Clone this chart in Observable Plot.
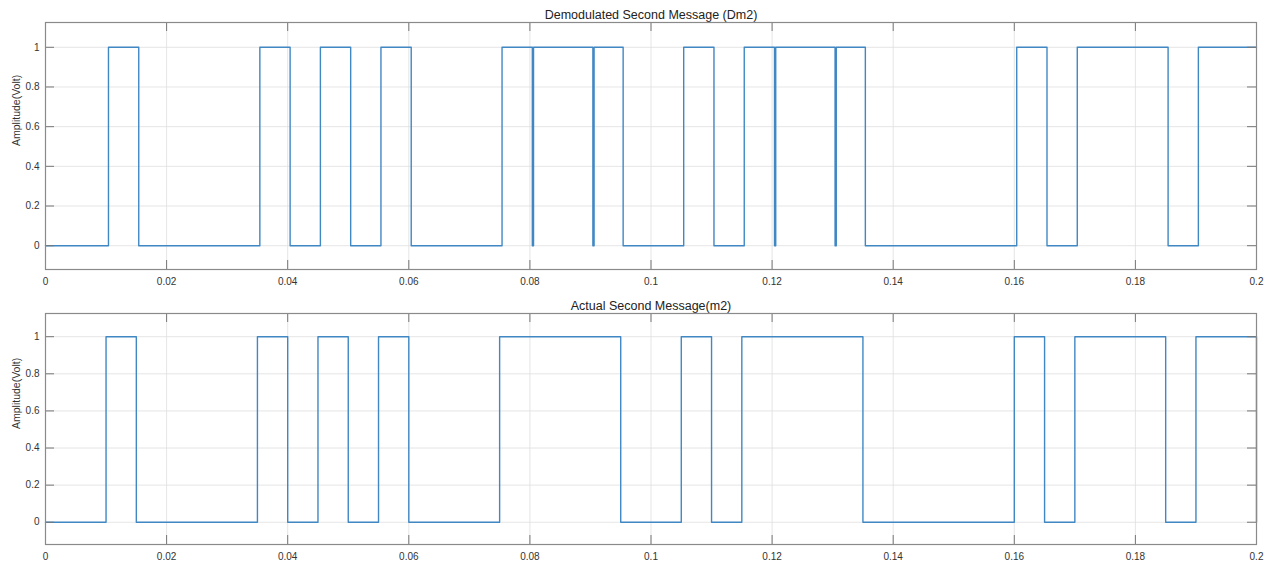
<!DOCTYPE html>
<html>
<head>
<meta charset="utf-8">
<script src="https://cdn.jsdelivr.net/npm/d3@7"></script>
<script src="https://cdn.jsdelivr.net/npm/@observablehq/plot@0.6"></script>
<style>
  html, body { margin: 0; padding: 0; background: #fff; }
  #chart svg { display: block; }
</style>
</head>
<body>
<div id="chart"></div>
<script>
// ---- Data ----
const xTicks = [0, 0.02, 0.04, 0.06, 0.08, 0.1, 0.12, 0.14, 0.16, 0.18, 0.2];
const yTicks = [0, 0.2, 0.4, 0.6, 0.8, 1];

const dm2Title = "Demodulated Second Message (Dm2)";
const dm2Times  = [0, 0.0104, 0.0154, 0.0354, 0.0404, 0.0454, 0.0504, 0.0554, 0.0604, 0.0754,
                   0.0804, 0.0806, 0.0904, 0.0906, 0.0954, 0.1054, 0.1104, 0.1154, 0.1204, 0.1206,
                   0.1304, 0.1306, 0.1354, 0.1604, 0.1654, 0.1704, 0.1854, 0.1904, 0.2];
const dm2Levels = [0, 1, 0, 1, 0, 1, 0, 1, 0, 1,
                   0, 1, 0, 1, 0, 1, 0, 1, 0, 1,
                   0, 1, 0, 1, 0, 1, 0, 1, 1];

const m2Title = "Actual Second Message(m2)";
const m2Times  = [0, 0.01, 0.015, 0.035, 0.04, 0.045, 0.05, 0.055, 0.06, 0.075,
                  0.095, 0.105, 0.11, 0.115, 0.135, 0.16, 0.165, 0.17, 0.185, 0.19, 0.2];
const m2Levels = [0, 1, 0, 1, 0, 1, 0, 1, 0, 1,
                  0, 1, 0, 1, 0, 1, 0, 1, 0, 1, 0];

const yLabel = "Amplitude(Volt)";

// ---- Drawing ----
const W = 1272, mL = 45, mR = 16;
const fmt = d => String(+d.toFixed(4));
const LINE = "#4088c4";

function panel(times, levels, title, height, mT, mB) {
  const data = times.map((t, i) => ({t, v: levels[i]}));
  const fh = height - mT - mB;
  const fw = W - mL - mR;
  const tk = 9;
  return Plot.plot({
    width: W, height,
    marginLeft: mL, marginRight: mR, marginTop: mT, marginBottom: mB,
    style: {fontFamily: "'Liberation Sans', Arial, sans-serif", fontSize: "10px", color: "#333", background: "#fff"},
    x: {domain: [0, 0.2]},
    y: {domain: [-0.12, 1.125]},
    marks: [
      Plot.gridX(xTicks, {stroke: "#dedede", strokeOpacity: 1, strokeWidth: 0.8}),
      Plot.gridY(yTicks, {stroke: "#dedede", strokeOpacity: 1, strokeWidth: 0.8}),
      Plot.line(data, {x: "t", y: "v", curve: "step-after", stroke: LINE, strokeWidth: 1.4}),
      Plot.tickX(xTicks, {x: d => d, insetTop: fh - tk, stroke: "#777", strokeWidth: 1}),
      Plot.tickX(xTicks, {x: d => d, insetBottom: fh - tk, stroke: "#777", strokeWidth: 1}),
      Plot.tickY(yTicks, {y: d => d, insetRight: fw - tk, stroke: "#777", strokeWidth: 1}),
      Plot.tickY(yTicks, {y: d => d, insetLeft: fw - tk, stroke: "#777", strokeWidth: 1}),
      Plot.axisX(xTicks, {tickSize: 0, tickPadding: 8, tickFormat: fmt, label: null, fill: "#333"}),
      Plot.axisY(yTicks, {tickSize: 0, tickPadding: 6, tickFormat: fmt, label: null, fill: "#333"}),
      Plot.text([yLabel], {frameAnchor: "left", rotate: -90, dx: -29, fontSize: 10.5, fill: "#333"}),
      Plot.text([title], {frameAnchor: "top", dy: -8, lineAnchor: "middle", fontSize: 12.5, fill: "#222"}),
      Plot.frame({stroke: "#8a8a8a", strokeWidth: 1.2})
    ]
  });
}

const root = document.getElementById("chart");
root.append(panel(dm2Times, dm2Levels, dm2Title, 288, 22, 19));
root.append(panel(m2Times, m2Levels, m2Title, 276, 25, 20));
</script>
</body>
</html>
